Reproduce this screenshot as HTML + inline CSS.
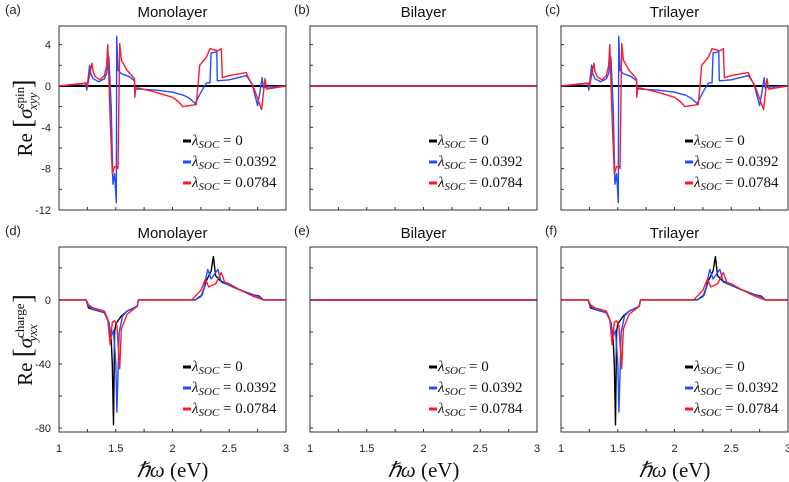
<!DOCTYPE html>
<html><head><meta charset="utf-8"><style>
html,body{margin:0;padding:0;background:#fff;}
svg{display:block;}
</style></head><body>
<svg id="fig" width="789" height="482" viewBox="0 0 789 482" xmlns="http://www.w3.org/2000/svg" font-family="Liberation Sans, sans-serif"></svg>
<script>
// ---- data ----
const xTicks = [1, 1.5, 2, 2.5, 3];
const spinTickLabels = [4, 0, -4, -8, -12];
const chargeTickLabels = [0, -40, -80];
const seriesNames = ["λ0", "λ0392", "λ0784"];
const legendValues = ["0", "0.0392", "0.0784"];
const colors = ["#000000", "#1f4fff", "#ff1a2a"];

// spin conductivity (panels a,c)
const spinBlackX = [1, 3];
const spinBlackY = [0, 0];
const spinBlueX = [1, 1.2, 1.235, 1.245, 1.27, 1.28, 1.3, 1.35, 1.4, 1.42, 1.44, 1.46, 1.475, 1.49, 1.505, 1.508, 1.52, 1.55, 1.62, 1.665, 1.668, 1.675, 1.7, 1.85, 2.0, 2.1, 2.15, 2.2, 2.25, 2.3, 2.33, 2.34, 2.39, 2.395, 2.5, 2.65, 2.7, 2.75, 2.77, 2.79, 2.8, 2.83, 3];
const spinBlueY = [0, 0.2, 0.25, -0.4, 2.0, 1.2, 0.7, 0.4, 0.7, 1.2, 2.8, -2, -9.5, -8.5, -11.3, 4.8, 1.5, 1.2, 0.9, 0.5, -0.9, -0.3, -0.3, -0.4, -0.6, -0.9, -1.2, -1.7, -0.6, 0.3, 0.3, 3.2, 3.3, 0.5, 0.6, 1.0, 0.2, -1.9, -0.6, 0.8, -0.2, -0.1, 0];
const spinRedX = [1, 1.2, 1.24, 1.25, 1.29, 1.3, 1.32, 1.36, 1.4, 1.42, 1.43, 1.45, 1.47, 1.49, 1.51, 1.52, 1.535, 1.55, 1.6, 1.665, 1.668, 1.675, 1.7, 1.85, 2.0, 2.05, 2.09, 2.21, 2.24, 2.3, 2.33, 2.4, 2.43, 2.44, 2.5, 2.6, 2.65, 2.66, 2.72, 2.785, 2.815, 2.83, 3];
const spinRedY = [0, 0.25, 0.3, -0.1, 2.2, 1.4, 0.9, 0.6, 1.0, 2.0, 4.0, -3, -8.5, -7.8, -7.8, -8.0, 4.1, 2.5, 1.5, 0.7, -1.1, -0.2, -0.2, -0.6, -1.1, -1.5, -2.0, -1.8, 2.0, 2.8, 3.6, 3.4, 3.6, 0.8, 1.0, 1.2, 1.3, 1.0, -0.3, -2.3, 0.7, -0.3, 0];

// charge conductivity (panels d,f)
const chargeBlackX = [1, 1.24, 1.26, 1.3, 1.4, 1.44, 1.46, 1.47, 1.48, 1.49, 1.5, 1.55, 1.6, 1.69, 1.7, 2.2, 2.26, 2.3, 2.34, 2.36, 2.38, 2.42, 2.5, 2.6, 2.72, 2.76, 2.8, 3];
const chargeBlackY = [0, 0, -5, -6, -8, -14, -25, -40, -78, -20, -15, -10, -7, -4, 0, 0, 3, 12, 18, 27, 15, 12, 9, 6, 3, 2.5, 0, 0];
const chargeBlueX = [1, 1.24, 1.26, 1.3, 1.4, 1.44, 1.46, 1.48, 1.5, 1.51, 1.53, 1.56, 1.6, 1.69, 1.7, 2.2, 2.25, 2.28, 2.31, 2.34, 2.4, 2.43, 2.5, 2.6, 2.72, 2.76, 2.8, 3];
const chargeBlueY = [0, 0, -4, -6, -8, -14, -23, -19, -40, -70, -20, -10, -7, -4, 0, 0, 2, 8, 19, 13, 19, 11, 9, 6, 3, 2, 0, 0];
const chargeRedX = [1, 1.24, 1.26, 1.3, 1.4, 1.43, 1.45, 1.47, 1.49, 1.51, 1.535, 1.55, 1.6, 1.69, 1.7, 2.17, 2.25, 2.29, 2.32, 2.38, 2.43, 2.46, 2.5, 2.6, 2.72, 2.8, 3];
const chargeRedY = [0, 0, -3, -5, -7, -12, -28, -14, -13, -16, -43, -18, -9, -4, 0, 0, 6, 13, 8, 10, 17, 11, 10, 6, 2, 0, 0];

// ---- layout ----
const NS = "http://www.w3.org/2000/svg";
const svg = document.getElementById("fig");
const panelX = [59, 310, 561];
const PW = 227;
const rows = [
  {top: 26, bottom: 210, ymin: -12, ymax: 5.8, minor: 2, labels: spinTickLabels},
  {top: 247, bottom: 432, ymin: -82.5, ymax: 33, minor: 20, labels: chargeTickLabels}
];
function el(tag, attrs, parent) {
  const e = document.createElementNS(NS, tag);
  for (const k in attrs) e.setAttribute(k, attrs[k]);
  (parent || svg).appendChild(e);
  return e;
}
const titles = ["Monolayer", "Bilayer", "Trilayer"];
const letters = [["(a)", "(b)", "(c)"], ["(d)", "(e)", "(f)"]];
const spinData = [[spinBlackX, spinBlackY], [spinBlueX, spinBlueY], [spinRedX, spinRedY]];
const chargeData = [[chargeBlackX, chargeBlackY], [chargeBlueX, chargeBlueY], [chargeRedX, chargeRedY]];

for (let r = 0; r < 2; r++) {
  const R = rows[r];
  for (let c = 0; c < 3; c++) {
    const x0 = panelX[c];
    const g = el("g", {});
    
    
    const sx = v => x0 + (v - 1) / 2 * PW;
    const sy = v => R.bottom - (v - R.ymin) / (R.ymax - R.ymin) * (R.bottom - R.top);
    const lt = el("text", {x: c > 0 ? x0 - 16 : 5, y: R.top - 12, "font-size": 13, fill: "#222"}, g);
    lt.textContent = letters[r][c];
    
    
    const tt = el("text", {x: x0 + PW / 2, y: R.top - 9, "font-size": 15, "text-anchor": "middle", fill: "#111"}, g);
    tt.textContent = titles[c];
    
    
    for (let v = 1.25; v < 3; v += 0.25) {
      const t = el("line", {x1: sx(v), x2: sx(v), y1: R.bottom, y2: R.bottom - 3, stroke: "#333", "stroke-width": 1}, g);
      
      
    }
    for (let v = Math.ceil(R.ymin / R.minor) * R.minor; v <= R.ymax; v += R.minor) {
      const t = el("line", {x1: x0, x2: x0 + 3, y1: sy(v), y2: sy(v), stroke: "#333", "stroke-width": 1}, g);
      
      
    }
    if (c === 0) {
      R.labels.forEach(v => {
        const t = el("text", {x: x0 - 8, y: sy(v) + 4, "font-size": 11, "text-anchor": "end", fill: "#222"}, g);
        t.textContent = v;
        
        
      });
    }
    if (r === 1) {
      xTicks.forEach(v => {
        const t = el("text", {x: sx(v), y: 452, "font-size": 11, "text-anchor": "middle", fill: "#222"}, g);
        t.textContent = v;
        
        
      });
      const xt = el("text", {x: x0 + PW / 2, y: 477, "font-size": 21, "text-anchor": "middle", "font-family": "Liberation Serif, serif", fill: "#111"}, g);
      xt.innerHTML = '<tspan font-style="italic">ℏω</tspan>  (eV)';
      
      
    }
    const data = r === 0 ? spinData : chargeData;
    [0, 1, 2].forEach(i => {
      let xs = data[i][0], ys = data[i][1];
      if (c === 1) { xs = [1, 3]; ys = [0, 0]; }
      let d = "";
      xs.forEach((v, k) => { d += (k ? "L" : "M") + sx(v).toFixed(1) + "," + sy(ys[k]).toFixed(1); });
      const p = el("path", {d: d, fill: "none", stroke: colors[i], "stroke-width": c === 1 ? 1.8 : (i === 0 && r === 0 ? 2 : 1.4), "stroke-linejoin": "round", opacity: c === 1 && i === 2 ? 0.8 : 1}, g);
      
      
    });
    const fr = el("rect", {x: x0, y: R.top, width: PW, height: R.bottom - R.top, fill: "none", stroke: "#333", "stroke-width": 1}, g);
    
    
    const lx = x0 + (c === 1 ? 119 : 124);
    const ly0 = r === 0 ? R.top + 115 : R.top + 120;
    legendValues.forEach((lv, i) => {
      const ly = ly0 + i * 21;
      const ln = el("line", {x1: lx, x2: lx + 8, y1: ly, y2: ly, stroke: colors[i], "stroke-width": 3}, g);
      
      
      const tx = el("text", {x: lx + 9, y: ly + 4, "font-size": 15, "font-family": "Liberation Serif, serif", fill: "#111"}, g);
      tx.innerHTML = '<tspan font-style="italic">λ</tspan><tspan font-style="italic" font-size="11" dy="3">SOC</tspan><tspan dy="-3"> = ' + lv + '</tspan>';
      
      
    });
  }
}
const yt1 = el("text", {transform: "translate(32,118) rotate(-90)", "font-size": 21, "text-anchor": "middle", "font-family": "Liberation Serif, serif", fill: "#111"});
yt1.innerHTML = 'Re <tspan font-size="27">[</tspan><tspan font-style="italic">σ</tspan><tspan font-size="13" dy="-8">spin</tspan><tspan font-size="13" font-style="italic" dx="-23" dy="13">xyy</tspan><tspan font-size="27" dy="-5" dx="4">]</tspan>';


const yt2 = el("text", {transform: "translate(32,340) rotate(-90)", "font-size": 21, "text-anchor": "middle", "font-family": "Liberation Serif, serif", fill: "#111"});
yt2.innerHTML = 'Re <tspan font-size="27">[</tspan><tspan font-style="italic">σ</tspan><tspan font-size="13" dy="-8">charge</tspan><tspan font-size="13" font-style="italic" dx="-38" dy="13">yxx</tspan><tspan font-size="27" dy="-5" dx="21">]</tspan>';


</script>
</body></html>
